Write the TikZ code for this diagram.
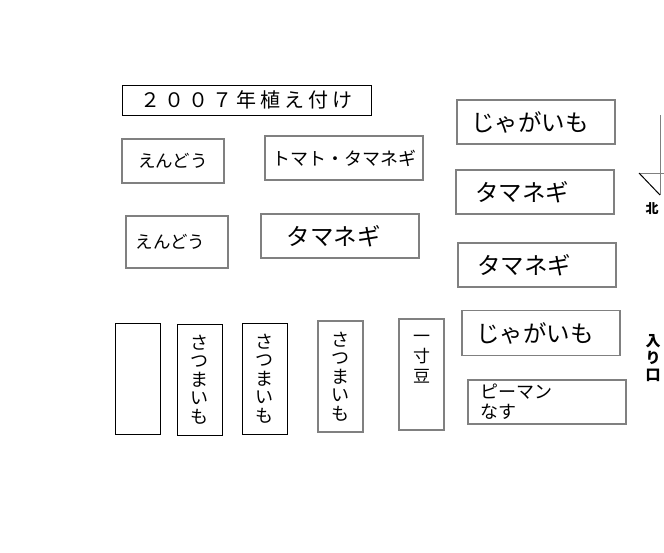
\documentclass[tikz,border=0pt]{standalone}
\usepackage{fontspec}
\setmainfont{Noto Sans CJK JP}
\definecolor{linegray}{RGB}{128,128,128}
\tikzset{
  bed/.style={draw=linegray, line width=1.5pt, inner sep=0pt, align=center},
  bedblack/.style={draw=black, line width=1pt, inner sep=0pt, align=center},
  big/.style={font=\fontsize{23.5}{25}\selectfont},
  mid/.style={font=\fontsize{17.5}{19}\selectfont},
  vert/.style={font=\fontsize{18}{18.5}\selectfont, align=center, inner sep=0pt},
  wide/.style={minimum width=158pt, minimum height=44pt},
  tall/.style={minimum width=45pt, minimum height=111pt},
}
\begin{document}
\begin{tikzpicture}[x=1pt,y=-1pt]
\useasboundingbox[fill=white] (0,0) rectangle (664,552);
% title
\node[bedblack, minimum width=249pt, minimum height=30pt,
  font=\fontsize{20}{22}\selectfont\addfontfeature{LetterSpace=20}] (title) at (246.5,100) {２００７年植え付け};
% left upper beds
\node[bed, mid, minimum width=102pt, minimum height=44pt] (end1) at (173,161) {えんどう};
\node[bed, font=\fontsize{18}{20}\selectfont, wide] (tomato) at (344,158) {トマト・タマネギ};
\node[bed, mid, minimum width=102pt, minimum height=52pt] (end2) at (177,242) {えんどう\kern13pt};
\node[bed, big, wide] (tamam) at (340,236) {タマネギ\kern13pt};
% right beds
\node[bed, big, wide] (jaga1) at (536,122) {じゃがいも\kern12pt};
\node[bed, big, wide] (tamar1) at (535,192) {タマネギ\kern26pt};
\node[bed, big, wide] (tamar2) at (537,265) {タマネギ\kern26pt};
\node[bed, big, wide, minimum height=45pt] (jaga2) at (541,333) {じゃがいも\kern12pt};
\node[bed, font=\fontsize{18}{20}\selectfont, wide, text width=134pt, align=left] (pman) at (547,402) {ピーマン\\なす};
% bottom row
\node[bedblack, tall] (empty) at (137.5,378.5) {};
\node[bedblack, tall, vert] (sat1) at (199.5,379.5) {さ\\つ\\ま\\い\\も};
\node[bedblack, tall, vert] (sat2) at (264.5,378.5) {さ\\つ\\ま\\い\\も};
\node[bed, tall, vert] (sat3) at (340.5,376.5) {さ\\つ\\ま\\い\\も};
\node[bed, tall] (issun) at (421.5,374.5) {};
\node[vert, font=\fontsize{17}{20}\selectfont] (issuntext) at (421.5,359) {一\\寸\\豆};
% north arrow
\coordinate (n1) at (660,115);
\coordinate (n2) at (660,195);
\coordinate (n3) at (639,173);
\coordinate (n4) at (664,173);
\draw[linegray, line width=1pt] (n1) -- (n2);
\draw[linegray, line width=1pt] (n3) -- (n4);
\draw[black, line width=1pt] (n3) -- (n2);
\node[font=\fontsize{13}{14}\selectfont\bfseries, inner sep=0pt] (north) at (652,209) {北};
\node[vert, font=\fontsize{15}{17}\selectfont\bfseries] (entrance) at (653,358) {入\\り\\口};
\end{tikzpicture}
\end{document}
